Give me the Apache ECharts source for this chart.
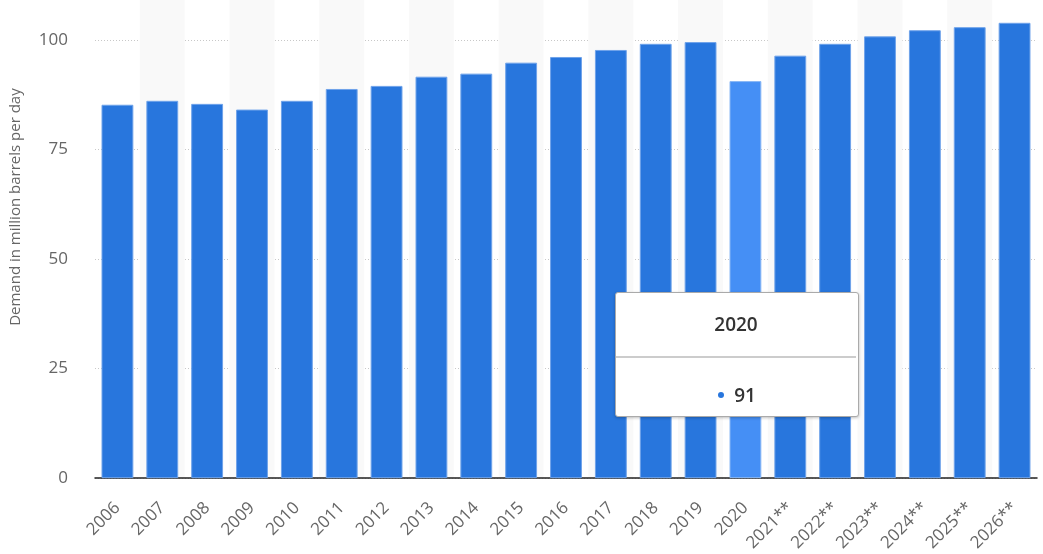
<!DOCTYPE html>
<html>
<head>
<meta charset="utf-8">
<script src="https://cdn.jsdelivr.net/npm/echarts@6/dist/echarts.min.js"></script>
<style>
html,body{margin:0;padding:0;background:#fff;}
#c{width:1043px;height:554px;}
</style>
</head>
<body>
<div id="c"></div>
<script>
const categories = ['2006','2007','2008','2009','2010','2011','2012','2013','2014','2015','2016','2017','2018','2019','2020','2021**','2022**','2023**','2024**','2025**','2026**'];
const demand = [85.2, 86.1, 85.4, 84.1, 86.1, 88.8, 89.5, 91.6, 92.3, 94.8, 96.1, 97.7, 99.1, 99.5, 90.6, 96.4, 99.1, 100.8, 102.2, 102.9, 103.9];
const yTicks = [0, 25, 50, 75, 100];
const yTitle = 'Demand in million barrels per day';
const highlighted = '2020';

const chart = echarts.init(document.getElementById('c'), null, {renderer: 'canvas'});
const hiIndex = categories.indexOf(highlighted);
const font = '"Open Sans", "Noto Sans", sans-serif';

chart.setOption({
  animation: false,
  grid: {left: 89, right: 6, top: 0, bottom: 75, containLabel: false},
  xAxis: {
    type: 'category',
    data: categories,
    axisLine: {show: true, lineStyle: {color: '#222', width: 1.5}},
    axisTick: {show: false},
    axisLabel: {rotate: 45, color: '#666', fontSize: 17, fontFamily: font, margin: 27, interval: 0},
    splitArea: {show: true, areaStyle: {color: ['rgba(255,255,255,0)', '#f9f9f9']}}
  },
  yAxis: {
    type: 'value',
    min: 0,
    max: 109.1,
    interval: 25,
    name: yTitle,
    nameLocation: 'middle',
    nameGap: 72,
    nameTextStyle: {color: '#666', fontSize: 15, fontFamily: font, padding: [0, 0, 0, 64]},
    axisLine: {show: false},
    axisTick: {show: false},
    axisLabel: {
      color: '#666', fontSize: 17, fontFamily: font, margin: 27, showMaxLabel: false,
      formatter: v => yTicks.indexOf(v) >= 0 ? String(v) : ''
    },
    splitLine: {show: true, showMaxLine: false, lineStyle: {color: '#c8c8c8', type: [1, 2], width: 1}}
  },
  tooltip: {
    trigger: 'item',
    alwaysShowContent: true,
    triggerOn: 'none',
    position: () => [615, 292],
    backgroundColor: '#fff',
    borderColor: '#aaa',
    borderWidth: 1,
    borderRadius: 3,
    padding: 0,
    extraCssText: 'box-shadow:0 1px 3px rgba(0,0,0,0.25);',
    formatter: p => '<div style="width:242px;height:123px;font-family:' + font.replace(/"/g, "'") + ';color:#333;font-weight:600;">' +
      '<div style="height:63px;line-height:62px;text-align:center;font-size:19px;border-bottom:2px solid #ccc;margin:0 2px 0 0;">' + p.name + '</div>' +
      '<div style="height:60px;line-height:74px;text-align:center;font-size:19px;">' +
      '<span style="display:inline-block;width:6px;height:6px;border-radius:3px;background:#2876dd;vertical-align:middle;margin-right:10px;position:relative;top:-2px;"></span>' +
      Math.round(p.value) + '</div></div>'
  },
  series: [{
    type: 'bar',
    data: demand,
    barWidth: '71%',
    itemStyle: {color: '#2876dd', borderColor: '#6fa3ea', borderWidth: 1},
    emphasis: {itemStyle: {color: '#458ff5', borderColor: '#8ab8f5'}}
  }]
});

chart.dispatchAction({type: 'highlight', seriesIndex: 0, dataIndex: hiIndex});
chart.dispatchAction({type: 'showTip', seriesIndex: 0, dataIndex: hiIndex});
</script>
</body>
</html>
